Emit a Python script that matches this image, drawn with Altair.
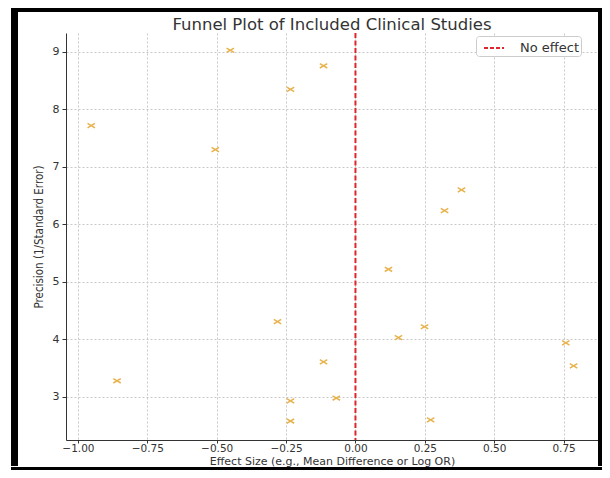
import altair as alt
import pandas as pd

# Data
effect_size = [-0.451, -0.115, -0.234, -0.952, -0.505, 0.382, 0.321, 0.119, -0.281,
               0.249, 0.155, 0.758, -0.115, 0.786, -0.859, -0.069, -0.234, -0.234, 0.271]
precision = [9.03, 8.76, 8.35, 7.72, 7.30, 6.60, 6.24, 5.22, 4.31,
             4.22, 4.03, 3.94, 3.61, 3.54, 3.28, 2.98, 2.93, 2.58, 2.60]
x_ticks = [-1.0, -0.75, -0.5, -0.25, 0.0, 0.25, 0.5, 0.75]
y_ticks = [3, 4, 5, 6, 7, 8, 9]
ref_line = [0.0]
ref_label = ["No effect"]

pts = pd.DataFrame({"effect": effect_size, "precision": precision})
ref = pd.DataFrame({"x": ref_line, "label": ref_label})

W, H = 532, 407
xscale = alt.Scale(domain=[-1.043, 0.874], nice=False, zero=False)
yscale = alt.Scale(domain=[2.25, 9.33], nice=False, zero=False)

font = "DejaVu Sans"

xaxis = alt.Axis(values=x_ticks, format=".2f", title="Effect Size (e.g., Mean Difference or Log OR)",
                 grid=True, gridDash=[2, 2], gridColor="#c8c8c8", domainColor="#333333",
                 tickColor="#333333", tickSize=3, labelFontSize=10.5, labelColor="#333333",
                 titleFontSize=11, titleFontWeight="normal", titleColor="#333333",
                 labelFont=font, titleFont=font, titlePadding=1.5, labelPadding=0.5)
yaxis = alt.Axis(values=y_ticks, format="d", title="Precision (1/Standard Error)",
                 grid=True, gridDash=[2, 2], gridColor="#c8c8c8", domainColor="#333333",
                 tickColor="#333333", tickSize=4, labelFontSize=11, labelColor="#333333",
                 titleFontSize=11.5, titleFontWeight="normal", titleColor="#333333",
                 labelFont=font, titleFont="DejaVu Sans Condensed", titlePadding=8, labelPadding=3)

cross_path = "M-1,-0.6L1,0.6M-1,0.6L1,-0.6"

points = alt.Chart(pts).mark_point(shape=cross_path, filled=False, strokeWidth=1.5,
                                   size=55, color="#e8b24c", opacity=1).encode(
    x=alt.X("effect:Q", scale=xscale, axis=xaxis),
    y=alt.Y("precision:Q", scale=yscale, axis=yaxis),
)

rule = alt.Chart(ref).mark_rule(strokeDash=[5, 2.5], strokeWidth=2).encode(
    x=alt.X("x:Q", scale=xscale),
    color=alt.Color("label:N", scale=alt.Scale(range=["#e0262c"]),
                    legend=alt.Legend(title=None, orient="none", legendX=410, legendY=3,
                                      symbolType="stroke", symbolDash=[4, 2],
                                      symbolStrokeWidth=2, symbolSize=400, symbolOffset=6,
                                      labelFontSize=13, labelColor="#333333", labelFont=font,
                                      labelOffset=15,
                                      strokeColor="#cccccc", fillColor="white",
                                      padding=1, cornerRadius=3)),
)

# decorative black frame round the whole figure (as in the reference screenshot)
fr = dict(color="black")
f_left = alt.Chart(ref).mark_rule(strokeWidth=7, **fr).encode(
    x=alt.value(-51.5), y=alt.value(-21), y2=alt.value(433))
f_right = alt.Chart(ref).mark_rule(strokeWidth=4, **fr).encode(
    x=alt.value(534), y=alt.value(-21), y2=alt.value(433))
f_top = alt.Chart(ref).mark_rule(strokeWidth=4, **fr).encode(
    y=alt.value(-23), x=alt.value(-55), x2=alt.value(536))
f_bottom = alt.Chart(ref).mark_rule(strokeWidth=3, **fr).encode(
    y=alt.value(435.5), x=alt.value(-55), x2=alt.value(536))

chart = alt.layer(points, rule, f_left, f_right, f_top, f_bottom).properties(
    width=W, height=H,
    title=alt.TitleParams("Funnel Plot of Included Clinical Studies", fontSize=16.5,
                          fontWeight="normal", font=font, color="#333333", offset=-25,
                          frame="group"),
    autosize=alt.AutoSizeParams(type="none"),
    padding={"left": 58, "top": 25, "right": 4, "bottom": 30},
    background="white",
).configure_view(stroke=None)

chart.save("out.html", embed_options={"renderer": "svg", "actions": False})
